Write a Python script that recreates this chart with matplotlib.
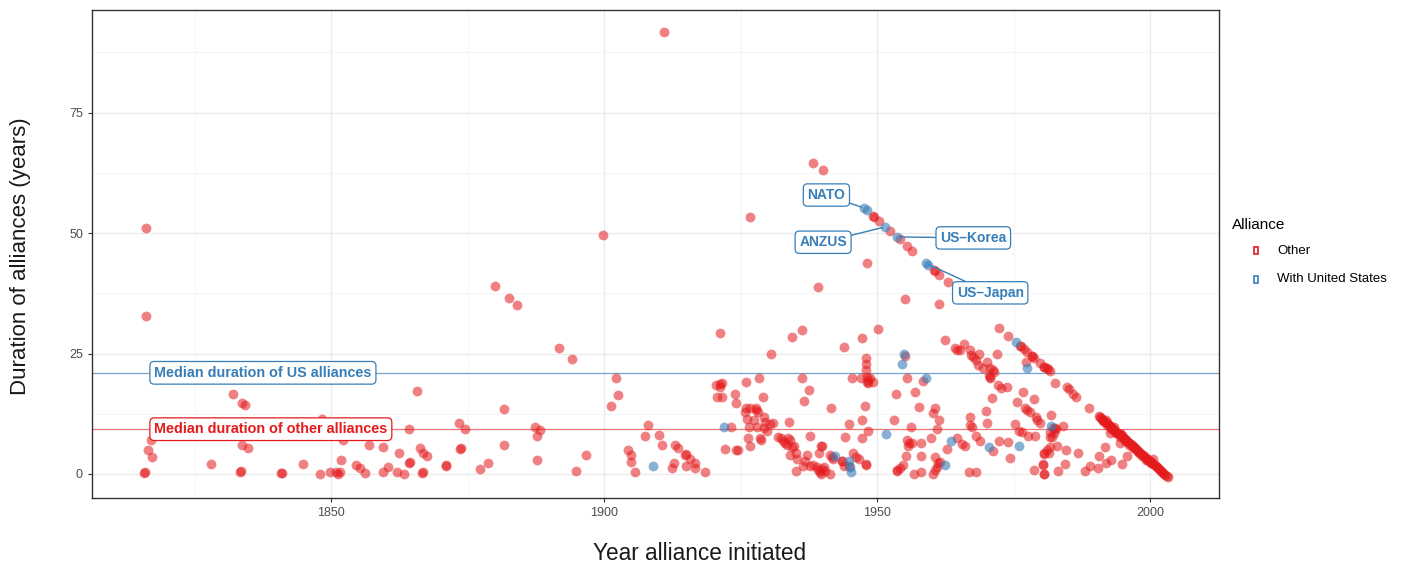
import matplotlib
matplotlib.use("Agg")
import matplotlib.pyplot as plt
from matplotlib.patches import Rectangle
from matplotlib.ticker import MultipleLocator

plt.rcParams['font.family'] = ['Liberation Sans', 'DejaVu Sans']

# alliances with the United States
us_year = [1909.0, 1922.0, 1942.2, 1944.9, 1945.1, 1945.2, 1947.6, 1948.2, 1951.5,
           1951.6, 1953.7, 1954.9, 1954.6, 1959.0, 1959.0, 1959.3, 1962.5, 1963.6,
           1970.4, 1975.4, 1975.9, 1977.5, 1981.8]
us_dur = [1.7, 9.8, 3.7, 2.6, 1.5, 0.4, 55.2, 54.8, 51.3,
          8.3, 49.2, 25.0, 22.8, 19.9, 43.7, 43.4, 1.9, 6.9,
          5.5, 27.3, 5.9, 22.1, 10.0]

# other alliances, 1815-1900
early_year = [1816.1, 1816.1, 1815.8, 1816.0, 1816.5, 1817.0, 1817.2, 1828.0, 1832.0,
              1833.7, 1834.2, 1833.3, 1833.4, 1833.7, 1834.8, 1840.8, 1841.0, 1844.9,
              1847.9, 1848.4, 1849.8, 1850.9, 1851.2, 1851.7, 1852.2, 1851.8, 1854.6,
              1855.3, 1856.2, 1857.0, 1859.5, 1859.5, 1860.4, 1862.0, 1862.4, 1863.4,
              1864.3, 1864.4, 1864.3, 1865.8, 1866.3, 1866.8, 1867.6, 1866.7, 1866.8,
              1871.0, 1871.1, 1873.4, 1874.5, 1873.6, 1873.7, 1877.3, 1878.8, 1881.7,
              1881.7, 1880.0, 1882.6, 1884.1, 1891.8, 1894.1, 1887.4, 1888.3, 1887.7,
              1887.7, 1896.7, 1894.9, 1899.8]
early_dur = [51.0, 32.8, 0.2, 0.4, 5.0, 7.0, 3.5, 2.0, 16.6,
             14.7, 14.3, 0.5, 0.7, 6.0, 5.4, 0.2, 0.3, 2.0,
             0.1, 11.5, 0.4, 0.5, 0.0, 0.4, 7.0, 2.9, 1.9,
             1.2, 0.2, 6.0, 5.6, 0.4, 1.5, 0.4, 4.4, 0.0,
             2.3, 2.5, 9.3, 17.2, 5.4, 4.4, 3.7, 0.2, 0.4,
             1.7, 1.9, 10.6, 9.3, 5.2, 5.4, 1.0, 2.3, 13.5,
             6.0, 39.0, 36.5, 35.0, 26.1, 23.9, 9.8, 9.1, 7.9,
             2.9, 3.9, 0.6, 49.6]

# other alliances, 1900-1953
mid_year = [1902.2, 1902.6, 1901.3, 1908.1, 1907.5, 1910.1, 1910.6, 1904.4, 1904.9,
            1904.9, 1905.7, 1911.0, 1913.0, 1913.6, 1914.8, 1915.0, 1915.8, 1916.7,
            1912.8, 1912.5, 1915.0, 1916.7, 1918.5, 1923.3, 1922.2, 1924.2, 1924.5,
            1920.5, 1921.2, 1921.6, 1921.2, 1920.7, 1921.6, 1924.0, 1924.2, 1926.0,
            1928.4, 1929.1, 1930.6, 1921.2, 1925.9, 1926.7, 1927.8, 1925.8, 1927.8,
            1928.1, 1926.1, 1927.5, 1929.2, 1929.5, 1930.4, 1930.9, 1926.6, 1928.0,
            1929.3, 1929.8, 1926.4, 1926.7, 1928.6, 1928.8, 1931.9, 1932.3, 1932.7,
            1933.2, 1933.7, 1934.0, 1933.4, 1934.4, 1934.8, 1934.0, 1935.2, 1935.3,
            1933.8, 1937.7, 1936.3, 1937.6, 1936.6, 1941.5, 1934.4, 1936.3, 1944.0,
            1947.3, 1950.1, 1948.0, 1948.0, 1948.0, 1948.1, 1948.4, 1948.7, 1948.1,
            1949.2, 1948.4, 1945.3, 1947.0, 1947.8, 1947.3, 1944.9, 1948.3, 1944.1,
            1947.2, 1953.5, 1953.0, 1953.6, 1939.8, 1937.2, 1936.8, 1936.5, 1935.2,
            1937.7, 1938.3, 1938.9, 1939.1, 1939.6, 1939.9, 1940.2, 1940.5, 1939.7,
            1941.3, 1939.4, 1939.9, 1941.3, 1941.8, 1942.0, 1943.5, 1944.0, 1944.8,
            1945.5, 1946.1, 1946.6, 1947.9, 1948.0, 1943.6, 1926.7, 1938.3, 1940.0,
            1948.2, 1939.2, 1955.1, 1961.4, 1949.3, 1949.4, 1950.4, 1952.4, 1954.1,
            1955.5, 1956.4, 1960.4, 1960.5, 1961.4, 1962.9]
mid_dur = [19.9, 16.4, 14.1, 10.2, 7.9, 8.1, 6.0, 5.0, 3.9,
           2.5, 0.4, 91.7, 6.0, 5.4, 3.9, 4.1, 3.1, 2.3,
           2.3, 1.2, 1.7, 1.2, 0.4, 9.8, 5.2, 5.0, 5.0,
           18.5, 18.7, 18.9, 18.0, 16.0, 16.0, 16.6, 14.7, 19.1,
           19.9, 16.0, 24.9, 29.3, 13.8, 13.8, 13.8, 12.8, 13.3,
           12.9, 11.4, 11.3, 11.9, 10.8, 10.4, 10.5, 9.8, 9.7,
           9.5, 9.0, 7.4, 5.8, 7.4, 7.1, 7.7, 7.4, 6.8,
           6.4, 7.5, 7.1, 6.0, 5.7, 5.8, 3.9, 4.3, 3.2,
           10.7, 7.9, 19.9, 17.5, 15.1, 13.8, 28.5, 29.8, 26.4,
           28.2, 30.1, 24.1, 22.8, 21.6, 20.2, 19.5, 19.9, 19.1,
           19.1, 18.8, 19.9, 19.9, 14.2, 11.3, 10.3, 8.9, 7.6,
           7.5, 16.6, 11.2, 0.8, 5.8, 3.9, 2.6, 1.7, 0.6,
           1.7, 1.9, 1.5, 0.8, 0.5, 1.0, 1.4, 0.7, 0.1,
           0.0, 4.3, 5.9, 3.9, 3.6, 3.2, 2.6, 1.7, 1.7,
           4.4, 3.6, 3.2, 1.8, 2.0, 2.7, 53.3, 64.5, 63.0,
           43.8, 38.8, 36.3, 35.3, 53.5, 53.4, 52.5, 50.4, 48.7,
           47.3, 46.3, 42.3, 42.2, 41.3, 39.8]

# other alliances, 1953-1990
late_year = [1955.1, 1955.4, 1958.3, 1957.0, 1957.7, 1960.3, 1960.6, 1961.4, 1956.2,
             1961.0, 1955.5, 1955.9, 1956.3, 1955.7, 1958.0, 1959.9, 1955.2, 1958.1,
             1960.5, 1961.2, 1961.5, 1960.9, 1960.6, 1960.3, 1953.7, 1954.2, 1954.7,
             1956.7, 1958.1, 1962.7, 1964.6, 1965.5, 1966.0, 1962.5, 1964.3, 1964.7,
             1965.2, 1965.9, 1967.0, 1967.2, 1967.6, 1968.1, 1968.6, 1968.4, 1970.2,
             1970.7, 1971.2, 1971.4, 1970.4, 1970.7, 1970.6, 1969.4, 1971.9, 1972.4,
             1974.0, 1972.1, 1972.7, 1973.7, 1971.0, 1970.0, 1970.2, 1967.0, 1967.0,
             1967.4, 1968.1, 1968.9, 1971.3, 1972.4, 1974.0, 1966.8, 1968.1, 1974.4,
             1976.2, 1976.3, 1976.9, 1977.4, 1978.3, 1978.4, 1978.8, 1979.8, 1980.5,
             1980.6, 1981.1, 1981.3, 1981.6, 1977.2, 1975.6, 1976.7, 1978.7, 1977.0,
             1977.4, 1977.9, 1979.0, 1979.3, 1979.8, 1975.3, 1975.9, 1976.5, 1977.7,
             1978.9, 1978.8, 1980.3, 1980.5, 1980.5, 1981.1, 1981.7, 1982.6, 1984.7,
             1985.2, 1985.9, 1986.5, 1988.8, 1981.9, 1982.6, 1981.7, 1982.0, 1984.0,
             1983.0, 1981.6, 1981.4, 1980.5, 1984.6, 1986.7, 1980.3, 1980.6, 1983.2,
             1984.4, 1988.1, 1989.0, 1990.5, 1990.7, 1991.8, 1991.9, 1992.8, 1994.9,
             1995.7, 1992.6, 1994.5, 1982.2, 1982.4, 1982.8, 2000.2, 2000.5]
late_dur = [24.5, 19.9, 19.3, 17.0, 14.0, 12.6, 13.8, 11.3, 9.7,
            9.3, 7.1, 6.5, 6.4, 5.8, 6.4, 7.4, 3.8, 3.7,
            3.6, 2.2, 2.5, 1.5, 0.8, 0.1, 0.6, 1.3, 1.9,
            0.0, 0.4, 5.1, 7.4, 6.2, 5.8, 27.9, 26.1, 25.7,
            25.7, 26.9, 25.7, 24.7, 24.3, 23.7, 25.0, 22.6, 23.2,
            21.9, 21.6, 21.2, 20.5, 20.2, 19.9, 21.9, 25.0, 30.4,
            28.7, 18.5, 17.8, 18.1, 15.7, 13.1, 10.6, 11.8, 10.2,
            9.8, 7.9, 6.9, 4.8, 6.8, 6.7, 0.5, 0.5, 3.3,
            26.6, 26.5, 25.9, 25.4, 24.5, 24.4, 24.1, 23.1, 22.3,
            22.2, 21.9, 21.7, 21.4, 23.3, 15.0, 17.1, 15.5, 13.6,
            13.3, 12.9, 11.8, 11.3, 10.5, 10.4, 8.9, 8.8, 7.9,
            7.9, 0.8, 1.9, 0.1, 4.3, 5.0, 7.7, 18.9, 18.0,
            17.6, 16.7, 16.0, 13.8, 12.2, 9.5, 8.8, 7.7, 10.0,
            5.9, 5.5, 4.3, 4.1, 5.0, 4.3, 2.0, 0.1, 0.7,
            2.0, 0.7, 1.7, 1.3, 3.8, 5.5, 2.2, 3.0, 2.1,
            3.7, 8.6, 6.4, 9.5, 8.6, 9.3, 2.2, 3.2]

# the post-1990 band of alliances still in force
recent_year = [1990.6, 1990.8, 1991.0, 1991.2, 1991.4, 1991.6, 1991.8, 1992.0, 1992.2,
               1992.4, 1992.6, 1992.8, 1993.0, 1993.2, 1993.4, 1993.6, 1993.8, 1994.0,
               1994.2, 1994.4, 1994.6, 1994.8, 1995.0, 1995.2, 1995.4, 1995.6, 1995.8,
               1996.0, 1996.2, 1996.4, 1996.6, 1996.8, 1997.0, 1997.2, 1997.4, 1997.6,
               1997.8, 1998.0, 1998.2, 1998.4, 1998.6, 1998.8, 1999.0, 1999.2, 1999.4,
               1999.6, 1999.8, 2000.0, 2000.2, 2000.4, 2000.6, 2000.8, 2001.0, 2001.2,
               2001.4, 2001.6, 2001.8, 2002.0, 2002.2, 2002.4, 2002.6, 2002.8, 2003.0,
               2003.2, 1991.3, 1992.1, 1992.9, 1993.7, 1994.5, 1995.3, 1996.1, 1996.9,
               1997.7, 1991.9, 1993.3, 1994.7, 1998.5, 1999.3]
recent_dur = [12.0, 11.8, 11.6, 11.4, 11.2, 11.0, 10.8, 10.6, 10.4,
              10.2, 10.0, 9.8, 9.6, 9.4, 9.2, 9.0, 8.8, 8.6,
              8.4, 8.2, 8.0, 7.8, 7.6, 7.4, 7.2, 7.0, 6.8,
              6.6, 6.4, 6.2, 6.0, 5.8, 5.6, 5.4, 5.2, 5.0,
              4.8, 4.6, 4.4, 4.2, 4.0, 3.8, 3.6, 3.4, 3.2,
              3.0, 2.8, 2.6, 2.4, 2.2, 2.0, 1.8, 1.6, 1.4,
              1.2, 1.0, 0.8, 0.6, 0.4, 0.2, 0.0, -0.2, -0.4,
              -0.6, 10.9, 10.1, 9.3, 8.5, 7.7, 6.9, 6.1, 5.3,
              4.5, 11.2, 9.8, 8.4, 3.7, 2.9]

us_median = 21.0
other_median = 9.3

labels = ['NATO', 'ANZUS', 'US\u2013Korea', 'US\u2013Japan']
label_pos = [(1940.7, 57.9), (1940.1, 48.1), (1967.6, 49.0), (1970.7, 37.6)]
label_pt = [(1947.6, 55.2), (1951.5, 51.3), (1953.7, 49.2), (1959.0, 43.7)]

red = '#E41A1C'
blue = '#377EB8'

other_year = early_year + mid_year + late_year + recent_year
other_dur = early_dur + mid_dur + late_dur + recent_dur

fig = plt.figure(figsize=(14.13, 5.69), dpi=100)
ax = fig.add_axes([0.0651, 0.1248, 0.7976, 0.8576])

ax.scatter(other_year, other_dur, s=50, color=red, alpha=0.55, linewidths=0, zorder=3)
ax.scatter(us_year, us_dur, s=50, color=blue, alpha=0.6, linewidths=0, zorder=3)

ax.axhline(us_median, color=blue, lw=0.9, alpha=0.7, zorder=2)
ax.axhline(other_median, color=red, lw=0.9, alpha=0.6, zorder=2)

box = dict(boxstyle='round,pad=0.3,rounding_size=0.3', fc='white', lw=0.9)
ax.text(1817.6, us_median, 'Median duration of US alliances', color=blue,
        fontsize=10.4, fontweight='bold', va='center', ha='left', zorder=5,
        bbox=dict(box, ec=blue))
ax.text(1817.6, other_median, 'Median duration of other alliances', color=red,
        fontsize=10.4, fontweight='bold', va='center', ha='left', zorder=5,
        bbox=dict(box, ec=red))

for lab, (tx, ty), (px, py) in zip(labels, label_pos, label_pt):
    ax.annotate(lab, xy=(px, py), xytext=(tx, ty), color=blue, fontsize=10,
                fontweight='bold', ha='center', va='center', zorder=6,
                bbox=dict(box, ec=blue),
                arrowprops=dict(arrowstyle='-', color=blue, lw=1.0, shrinkA=0, shrinkB=2))

ax.set_xlim(1806.2, 2012.6)
ax.set_ylim(-4.98, 96.3)
ax.xaxis.set_major_locator(MultipleLocator(50))
ax.xaxis.set_minor_locator(MultipleLocator(25))
ax.yaxis.set_major_locator(MultipleLocator(25))
ax.yaxis.set_minor_locator(MultipleLocator(12.5))
ax.grid(which='major', color='#EBEBEB', lw=1.0, zorder=0)
ax.grid(which='minor', color='#F2F2F2', lw=0.6, zorder=0)
ax.set_axisbelow(True)
ax.tick_params(which='major', length=3, color='#333333', labelsize=9, labelcolor='#4D4D4D')
ax.tick_params(which='minor', length=0)
for sp in ax.spines.values():
    sp.set_color('#333333')
    sp.set_linewidth(1.0)

ax.set_xlabel('Year alliance initiated', fontsize=16.3, color='#1A1A1A')
ax.set_ylabel('Duration of alliances (years)', fontsize=16, color='#1A1A1A')
ax.xaxis.set_label_coords(0.5395, -0.09)
ax.yaxis.set_label_coords(-0.054, 0.495)

# legend
fig.text(1232 / 1413, 1 - 225 / 569, 'Alliance', fontsize=11, va='center', ha='left')
for lab, col, ypx in [('Other', red, 251), ('With United States', blue, 279)]:
    fig.patches.append(Rectangle((1254 / 1413, 1 - (ypx + 3.5) / 569), 4 / 1413, 7 / 569,
                                 transform=fig.transFigure, fc='white', ec=col, lw=1.2))
    fig.text(1277 / 1413, 1 - ypx / 569, lab, fontsize=9.5, va='center', ha='left')

fig.savefig('out.png', dpi=100)
